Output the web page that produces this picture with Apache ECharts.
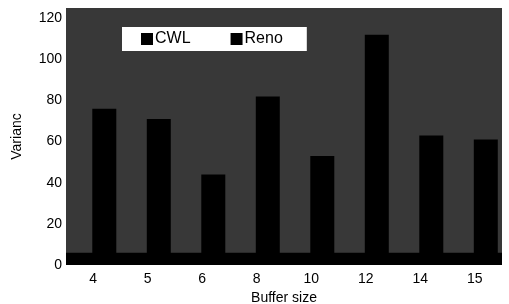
<!DOCTYPE html>
<html>
<head>
    <meta charset="UTF-8">
    <title>Buffer size variance</title>
    <script src="https://cdn.jsdelivr.net/npm/echarts@6/dist/echarts.min.js"></script>
    <style>
        html, body { margin: 0; padding: 0; background: #fff; }
        #main { width: 509px; height: 304px; }
    </style>
</head>
<body>
<div id="main"></div>
<script type="text/javascript">
    // x categories (buffer size)
    var bufferSizes = ['4', '5', '6', '8', '10', '12', '14', '15'];
    // both series are drawn solid black in the scan, only one bar silhouette per size is readable
    var cwlValues = [null, null, null, null, null, null, null, null];
    var renoValues = [76, 71, 44, 82, 53, 112, 63, 61];
    // y ticks
    var yMin = 0, yMax = 125, yStep = 20;

    var myChart = echarts.init(document.getElementById('main'));
    var font = 'Liberation Sans, Arial, sans-serif';

    myChart.setOption({
        animation: false,
        backgroundColor: '#fff',
        legend: {
            data: ['CWL', 'Reno'],
            top: 27,
            left: 122,
            itemGap: 40,
            itemWidth: 12,
            itemHeight: 12,
            backgroundColor: '#fff',
            padding: [4, 24, 4, 19],
            textStyle: { color: '#000', fontSize: 16, fontFamily: font, padding: [0, 0, 0, -3] },
            icon: 'rect'
        },
        grid: {
            left: 66,
            right: 7,
            top: 8,
            bottom: 39,
            outerBoundsMode: 'none',
            show: true,
            backgroundColor: '#383838',
            borderWidth: 0
        },
        xAxis: {
            type: 'category',
            data: bufferSizes,
            name: 'Buffer size',
            nameLocation: 'middle',
            nameGap: 21,
            nameTextStyle: { color: '#000', fontSize: 14, fontFamily: font },
            axisLine: { show: false },
            axisTick: { show: false },
            axisLabel: { color: '#000', fontSize: 14, fontFamily: font, margin: 7 }
        },
        yAxis: {
            type: 'value',
            min: yMin,
            max: yMax,
            interval: yStep,
            name: 'Varianc',
            nameLocation: 'middle',
            nameRotate: 90,
            nameGap: 42,
            nameTextStyle: { color: '#000', fontSize: 14, fontFamily: font },
            axisLine: { show: false },
            axisTick: { show: false },
            splitLine: { show: false },
            axisLabel: { color: '#000', fontSize: 14, fontFamily: font, margin: 4, showMaxLabel: false }
        },
        series: [{
            name: 'CWL',
            type: 'bar',
            data: cwlValues,
            barWidth: 24,
            barGap: '-8%',
            itemStyle: { color: '#000' },
            markArea: {
                silent: true,
                itemStyle: { color: '#000' },
                data: [[{ yAxis: 0 }, { yAxis: 6 }]]
            }
        }, {
            name: 'Reno',
            type: 'bar',
            data: renoValues,
            barWidth: 24,
            itemStyle: { color: '#000' }
        }]
    });
</script>
</body>
</html>
